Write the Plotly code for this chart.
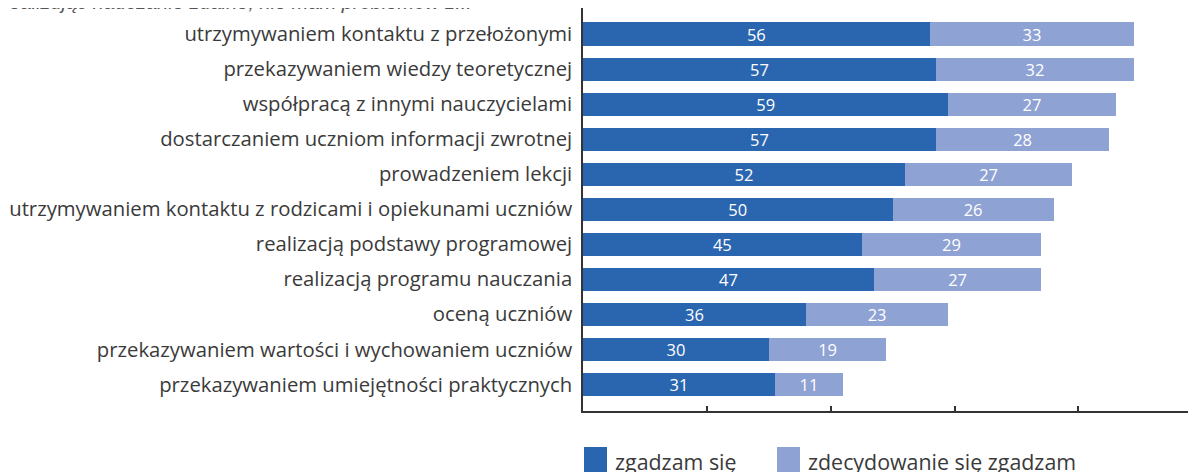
import plotly.graph_objects as go

categories = [
    "utrzymywaniem kontaktu z przełożonymi",
    "przekazywaniem wiedzy teoretycznej",
    "współpracą z innymi nauczycielami",
    "dostarczaniem uczniom informacji zwrotnej",
    "prowadzeniem lekcji",
    "utrzymywaniem kontaktu z rodzicami i opiekunami uczniów",
    "realizacją podstawy programowej",
    "realizacją programu nauczania",
    "oceną uczniów",
    "przekazywaniem wartości i wychowaniem uczniów",
    "przekazywaniem umiejętności praktycznych",
]
agree = [56, 57, 59, 57, 52, 50, 45, 47, 36, 30, 31]
strongly_agree = [33, 32, 27, 28, 27, 26, 29, 27, 23, 19, 11]
series_names = ["zgadzam się", "zdecydowanie się zgadzam"]
title_text = "Realizując nauczanie zdalne, nie mam problemów z..."

C_DARK = "#2A66B0"
C_LIGHT = "#8FA2D4"
FONT = "Open Sans"
TXT = "#3a3a3a"
OFF = 8  # page body margin
W, H = 1196 - OFF, 472 - OFF
AX_L, AX_T, AX_B = 583, 8, 411  # page coords of plot area
ML, MT = AX_L - OFF, AX_T - OFF
MB = H - (AX_B - OFF)
MR = 0
PW = W - ML - MR
PH = H - MT - MB


def px(xpage):
    return (xpage - AX_L) / PW


def py(ypage):
    return (AX_B - ypage) / PH


fig = go.Figure()
for vals, name, col in [(agree, series_names[0], C_DARK), (strongly_agree, series_names[1], C_LIGHT)]:
    fig.add_trace(go.Bar(
        y=categories, x=vals, name=name, orientation="h",
        marker=dict(color=col, line=dict(width=0)),
        width=0.66,
        text=vals, texttemplate="%{text}", textposition="inside",
        insidetextanchor="middle", textangle=0,
        constraintext="none",
        textfont=dict(color="white", size=16.5, family=FONT),
        hoverinfo="skip",
    ))

fig.update_layout(
    barmode="stack",
    width=W, height=H,
    margin=dict(l=ML, r=MR, t=MT, b=MB, pad=0, autoexpand=False),
    paper_bgcolor="white", plot_bgcolor="white",
    showlegend=False,
    font=dict(family=FONT, color=TXT),
)
fig.update_xaxes(
    range=[0, 99], showgrid=False, zeroline=False,
    showline=True, linecolor="#333333", linewidth=1.5,
    ticks="inside", ticklen=5, tickcolor="#333333", tickwidth=1.5,
    tickvals=[20, 40, 60, 80], showticklabels=False,
)
n = len(categories)
fig.update_yaxes(
    type="category", categoryorder="array", categoryarray=categories,
    range=[n - 1 + 0.5 + 9 / 35.05, -0.5 - 8.5 / 35.05],
    showgrid=False, zeroline=False,
    showline=True, linecolor="#333333", linewidth=1.5,
    ticks="", ticklabelstandoff=5, automargin=False,
    tickfont=dict(size=20.3, family=FONT, color=TXT),
)

# title (partly cut off at the top, as in the reference)
fig.add_annotation(
    text="<i>" + title_text + "</i>", xref="paper", yref="paper",
    x=px(474), y=py(2), xanchor="right", yanchor="middle",
    showarrow=False, font=dict(size=20, family="Liberation Sans", color="#555555"),
)

# legend (manual)
legend_items = [(584, 613, C_DARK, series_names[0]), (777, 806, C_LIGHT, series_names[1])]
for sx, tx, col, name in legend_items:
    fig.add_shape(type="rect", xref="paper", yref="paper",
                  x0=px(sx), x1=px(sx + 23), y0=py(447), y1=py(478),
                  fillcolor=col, line=dict(width=0))
    fig.add_annotation(text=name, xref="paper", yref="paper",
                       x=px(tx), y=py(461), xanchor="left", yanchor="middle",
                       showarrow=False,
                       font=dict(size=21.4, family=FONT, color=TXT))

fig.write_html("out.html")
